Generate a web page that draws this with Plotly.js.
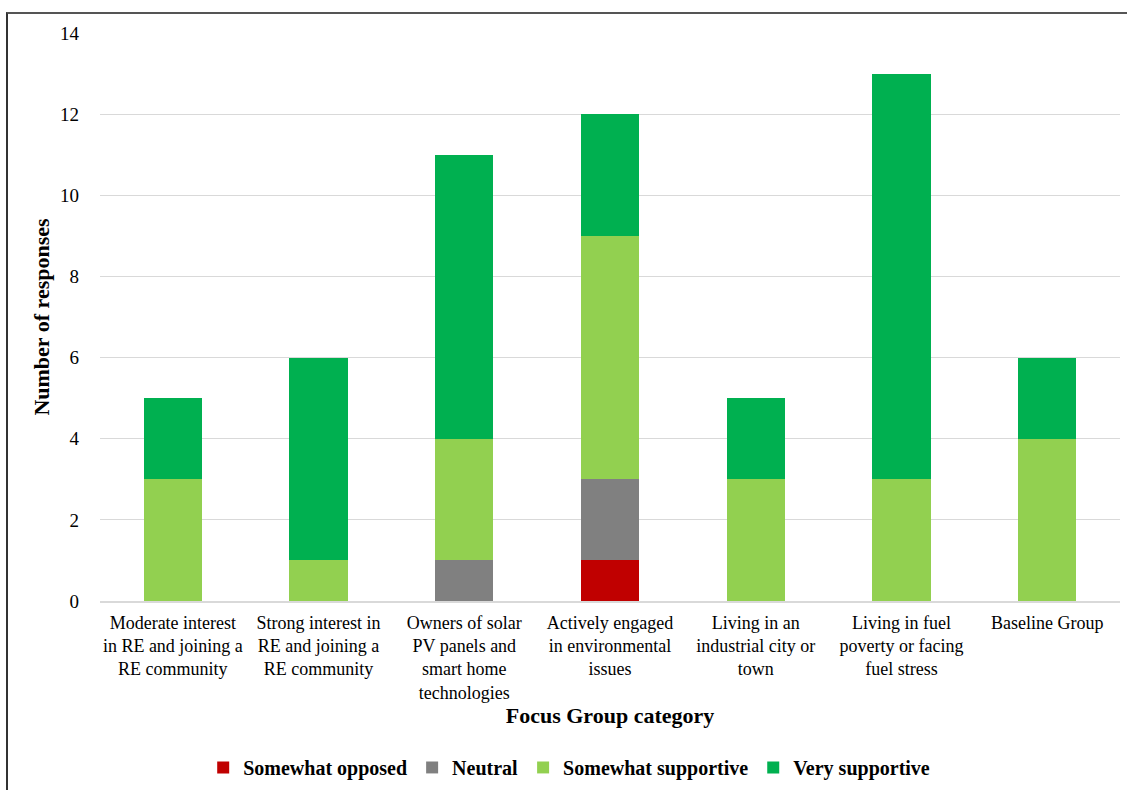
<!DOCTYPE html>
<html>
<head>
<meta charset="utf-8">
<script src="https://cdn.plot.ly/plotly-3.0.1.min.js"></script>
<style>
  html, body { margin: 0; padding: 0; background: #fff; }
  #frame { position: absolute; left: 6px; top: 12px; width: 1121px; height: 778px;
           border-top: 2px solid #555; border-left: 2px solid #333; box-sizing: border-box; }
  #chart { position: absolute; left: 0; top: 0; width: 1127px; height: 790px; }
</style>
</head>
<body>
<div id="frame"></div>
<div id="chart"></div>
<script>
// Focus group categories (multi-line tick labels)
const categories = [
  "Moderate interest<br>in RE and joining a<br>RE community",
  "Strong interest in<br>RE and joining a<br>RE community",
  "Owners of solar<br>PV panels and<br>smart home<br>technologies",
  "Actively engaged<br>in environmental<br>issues",
  "Living in an<br>industrial city or<br>town",
  "Living in fuel<br>poverty or facing<br>fuel stress",
  "Baseline Group"
];

// Number of responses per attitude
const somewhatOpposed    = [0, 0, 0, 1, 0, 0, 0];
const neutral            = [0, 0, 1, 2, 0, 0, 0];
const somewhatSupportive = [3, 1, 3, 6, 3, 3, 4];
const verySupportive     = [2, 5, 7, 3, 2, 10, 2];

const seriesNames  = ["Somewhat opposed", "Neutral", "Somewhat supportive", "Very supportive"];
const seriesColors = ["#C00000", "#808080", "#92D050", "#00B050"];
const seriesValues = [somewhatOpposed, neutral, somewhatSupportive, verySupportive];

const xIdx = categories.map((_, i) => i);

const traces = seriesValues.map((vals, k) => ({
  type: "bar",
  name: "<b>" + seriesNames[k] + "</b>",
  x: xIdx,
  y: vals,
  marker: { color: seriesColors[k], line: { width: 0 } },
  hoverinfo: "name+y"
}));

const serif = "'Liberation Serif', 'Times New Roman', serif";

const layout = {
  width: 1127,
  height: 790,
  barmode: "stack",
  bargap: 0.6,
  paper_bgcolor: "rgba(0,0,0,0)",
  plot_bgcolor: "rgba(0,0,0,0)",
  margin: { l: 100, r: 7, t: 33, b: 189, autoexpand: false },
  font: { family: serif, size: 18, color: "#000" },
  xaxis: {
    tickmode: "array",
    tickvals: xIdx,
    ticktext: categories,
    range: [-0.5, 6.5],
    showgrid: false,
    showline: true,
    linecolor: "#d9d9d9",
    linewidth: 2,
    ticks: "",
    ticklabelstandoff: 4,
    tickfont: { family: serif, size: 18, color: "#000" },
    tickangle: 0,
    automargin: false,
    title: { text: "<b>Focus Group category</b>", font: { family: serif, size: 22, color: "#000" }, standoff: 4 }
  },
  yaxis: {
    range: [0, 14],
    dtick: 2,
    showgrid: true,
    gridcolor: "#d9d9d9",
    gridwidth: 1,
    zeroline: false,
    showline: false,
    ticks: "",
    ticklabelstandoff: 20,
    automargin: false,
    tickfont: { family: serif, size: 19, color: "#000" },
    title: { text: "<b>Number of responses</b>", font: { family: serif, size: 22, color: "#000" }, standoff: 4 }
  },
  legend: {
    orientation: "h",
    x: 0.46,
    xanchor: "center",
    y: -0.293,
    yanchor: "middle",
    traceorder: "normal",
    font: { family: serif, size: 20, color: "#000" },
    itemwidth: 30
  },
  showlegend: true
};

Plotly.newPlot("chart", traces, layout, { displayModeBar: false, staticPlot: true });
</script>
</body>
</html>
